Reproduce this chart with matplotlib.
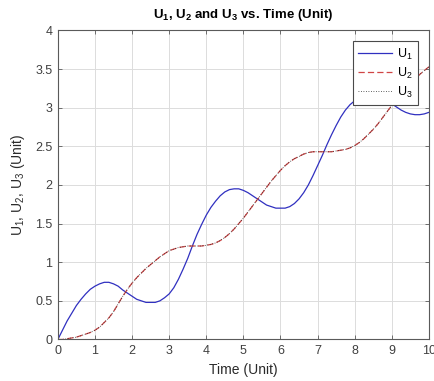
import matplotlib
matplotlib.use("Agg")
import matplotlib.pyplot as plt
from matplotlib.ticker import FormatStrFormatter, MultipleLocator

# values, time step 0.125
time = [i * 0.125 for i in range(81)]

u1 = [0.00, 0.12, 0.24, 0.34, 0.44, 0.52, 0.59, 0.65, 0.69, 0.72,
      0.74, 0.74, 0.72, 0.69, 0.64, 0.60, 0.56, 0.52, 0.50, 0.48,
      0.48, 0.48, 0.50, 0.54, 0.59, 0.67, 0.78, 0.91, 1.05, 1.21,
      1.36, 1.49, 1.61, 1.71, 1.79, 1.86, 1.91, 1.94, 1.95, 1.95,
      1.93, 1.90, 1.86, 1.82, 1.78, 1.74, 1.72, 1.70, 1.70, 1.70,
      1.72, 1.76, 1.82, 1.90, 2.00, 2.12, 2.25, 2.38, 2.52, 2.65,
      2.77, 2.88, 2.97, 3.04, 3.09, 3.13, 3.16, 3.17, 3.17, 3.15,
      3.13, 3.09, 3.05, 3.01, 2.97, 2.94, 2.92, 2.91, 2.91, 2.92, 2.94]

u2 = [0.00, 0.00, 0.01, 0.02, 0.03, 0.05, 0.07, 0.09, 0.12, 0.16,
      0.22, 0.28, 0.36, 0.46, 0.56, 0.65, 0.73, 0.80, 0.86, 0.92,
      0.97, 1.02, 1.07, 1.11, 1.15, 1.17, 1.19, 1.20, 1.21, 1.21,
      1.21, 1.21, 1.22, 1.23, 1.25, 1.28, 1.32, 1.37, 1.43, 1.50,
      1.57, 1.65, 1.73, 1.81, 1.89, 1.97, 2.05, 2.12, 2.19, 2.25,
      2.30, 2.34, 2.37, 2.40, 2.42, 2.43, 2.43, 2.43, 2.43, 2.43,
      2.44, 2.45, 2.46, 2.48, 2.51, 2.55, 2.60, 2.66, 2.72, 2.79,
      2.87, 2.95, 3.03, 3.10, 3.17, 3.24, 3.31, 3.37, 3.43, 3.48, 3.53]

# U3 lies exactly on top of U2 in the picture
u3 = list(u2)

plt.rcParams['font.family'] = ['Liberation Sans', 'DejaVu Sans']
plt.rcParams['mathtext.fontset'] = 'custom'
plt.rcParams['mathtext.rm'] = 'Liberation Sans'
plt.rcParams['mathtext.bf'] = 'Liberation Sans:bold'
plt.rcParams['mathtext.default'] = 'regular'

fig = plt.figure(figsize=(4.35, 3.81), dpi=100)
ax = fig.add_axes([0.133, 0.109, 0.853, 0.811])

ax.plot(time, u1, color='#3030c0', linestyle='-', linewidth=0.9, label='U$_1$')
ax.plot(time, u2, color='#d04545', linestyle=(0, (5, 2.5)), linewidth=0.9, label='U$_2$')
ax.plot(time, u3, color='#303030', linestyle=(0, (1, 2)), linewidth=0.6, label='U$_3$')

ax.set_xlim(0, 10)
ax.set_ylim(0, 4)
ax.xaxis.set_major_locator(MultipleLocator(1))
ax.yaxis.set_major_locator(MultipleLocator(0.5))
ax.xaxis.set_major_formatter(FormatStrFormatter('%g'))
ax.yaxis.set_major_formatter(FormatStrFormatter('%g'))

ax.grid(True, color='#dcdcdc', linewidth=0.7)
ax.set_axisbelow(True)
for s in ax.spines.values():
    s.set_color('#5a5a5a')
    s.set_linewidth(0.8)
ax.tick_params(direction='in', length=3, width=0.6, color='#5a5a5a',
               top=True, right=True, labelsize=9, labelcolor='#404040', pad=4)

ax.set_xlabel('Time (Unit)', fontsize=10, color='#2a2a2a', labelpad=4)
ax.set_ylabel('U$_1$, U$_2$, U$_3$ (Unit)', fontsize=10, color='#2a2a2a', labelpad=6)
ax.set_title(r'U$_\mathbf{1}$, U$_\mathbf{2}$ and U$_\mathbf{3}$ vs. Time (Unit)',
             fontsize=9.5, fontweight='bold', pad=9)

leg = ax.legend(loc='upper right', fontsize=9, fancybox=False, framealpha=1,
                edgecolor='#4a4a4a', borderaxespad=0.85, handlelength=2.7,
                handletextpad=0.4, borderpad=0.45, labelspacing=0.3)
leg.get_frame().set_linewidth(0.8)

fig.savefig('out.png', dpi=100)
